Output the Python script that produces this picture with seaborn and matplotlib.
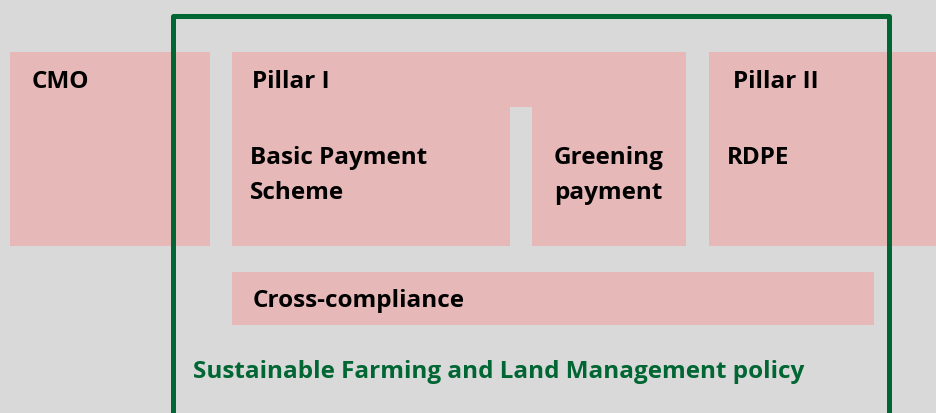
import matplotlib
matplotlib.use("Agg")
import matplotlib.pyplot as plt
import seaborn as sns

sns.set_theme(style="white")
plt.rcParams["font.family"] = ["Open Sans", "DejaVu Sans"]

# ---------- DATA ----------
top_labels = ["CMO", "Pillar I", "Pillar II"]
sub_labels = ["Basic Payment\nScheme", "Greening\npayment", "RDPE"]
base_label = "Cross-compliance"
frame_label = "Sustainable Farming and Land Management policy"

BG = "#d9d9d9"
PINK = "#e6b8b7"
GREEN = "#006633"

W, H = 937, 413
fig = plt.figure(figsize=(W / 100, H / 100), dpi=100)
fig.patch.set_facecolor(BG)
ax = fig.add_axes([0, 0, 1, 1])
ax.set_facecolor(BG)
ax.set_xlim(0, W)
ax.set_ylim(H, 0)
ax.axis("off")

# ---------- BOXES (pixel layout) ----------
# (left, right, top, bottom)
boxes = [
    (10, 210, 52, 246),     # CMO
    (232, 686, 52, 107),    # Pillar I header band
    (232, 510, 107, 246),   # Basic payment
    (532, 686, 107, 246),   # Greening
    (709, 945, 52, 246),    # Pillar II
    (232, 874, 272, 325),   # Cross-compliance
]
for l, r, t, b in boxes:
    ax.bar(l, b - t, width=r - l, bottom=t, align="edge", color=PINK,
           edgecolor="none", linewidth=0, zorder=1)

# green frame
ax.plot([173, 173, 889, 889], [430, 16, 16, 430], color=GREEN, lw=3.6,
        solid_joinstyle="round", zorder=3)

# ---------- TEXT ----------
fs = 17.5
for x, lab in zip([32, 252, 733], top_labels):
    ax.text(x, 82, lab, fontsize=fs, fontweight="bold", color="black",
            va="center", ha="left", zorder=4)
for x, lab in zip([250, 554, 727], sub_labels):
    for i, line in enumerate(lab.split("\n")):
        ax.text(x, 158 + 35 * i, line, fontsize=fs, fontweight="bold",
                color="black", va="center", ha="left", zorder=4)
ax.text(253, 301, base_label, fontsize=fs, fontweight="bold", color="black",
        va="center", ha="left", zorder=4)
ax.text(193, 372, frame_label, fontsize=fs, fontweight="bold", color=GREEN,
        va="center", ha="left", zorder=4)

fig.savefig("out.png", dpi=100, facecolor=BG)
